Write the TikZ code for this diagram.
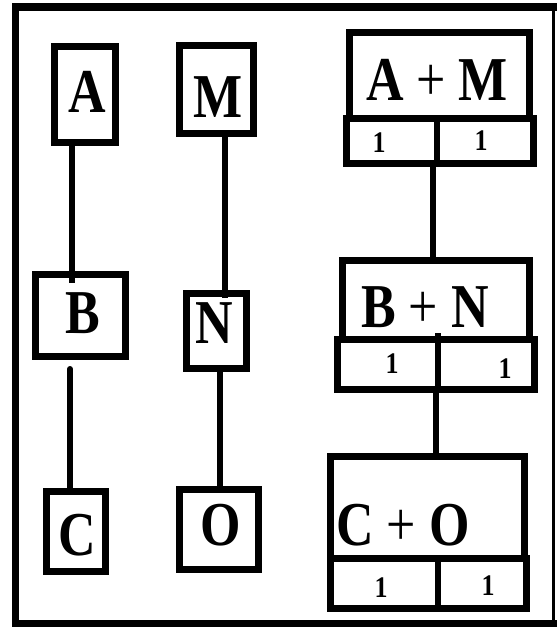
\documentclass[tikz,border=0pt]{standalone}
\usepackage{fontspec}
\usepackage{graphicx}
\setmainfont{Liberation Serif}
\newcommand\tallbig[1]{\scalebox{1}[1.2]{\fontsize{52}{60}\selectfont #1}}
\newcommand\tallsmall[1]{\scalebox{1}[1.15]{\fontsize{26}{30}\selectfont\bfseries #1}}
\begin{document}
\begin{tikzpicture}[x=1pt,y=-1pt,
  frameline/.style={line width=#1},
  boxed/.style={draw, line width=7pt, inner sep=0pt, outer sep=0pt},
  link/.style={line width=6pt},
  divider/.style={line width=6pt},
  word/.style={anchor=base, inner sep=0pt, outer sep=0pt},
]
\useasboundingbox (0,0) rectangle (557,627);

% outer frame
\draw[frameline=7pt] (15.5,3) -- (15.5,627);
\draw[frameline=8pt] (12,7) -- (557,7);
\draw[frameline=3pt] (553,7) -- (553,620);
\draw[frameline=7pt] (12,623.5) -- (557,623.5);

% left column: A - B - C
\node[boxed, minimum width=61pt, minimum height=96pt] (boxA) at (85,94.5) {};
\node[boxed, minimum width=90pt, minimum height=82pt] (boxB) at (80.5,315.5) {};
\node[boxed, minimum width=59pt, minimum height=80pt] (boxC) at (76,531.5) {};
\node[word] (txtA) at (87,112) {\tallbig{\bfseries A}};
\node[word] (txtB) at (83,333) {\tallbig{\bfseries B}};
\node[word] (txtC) at (77,555) {\tallbig{\bfseries C}};

% middle column: M - N - O
\node[boxed, minimum width=74pt, minimum height=88pt] (boxM) at (216.5,89.5) {};
\node[boxed, minimum width=60pt, minimum height=75pt] (boxN) at (216.5,331) {};
\node[boxed, minimum width=79pt, minimum height=80pt] (boxO) at (219,529.5) {};
\node[word] (txtM) at (218,117) {\tallbig{\bfseries M}};
\node[word] (txtN) at (214,343) {\tallbig{\bfseries N}};
\node[word] (txtO) at (221,545) {\tallbig{\bfseries O}};

% right column: combined boxes with counters
\node[boxed, minimum width=180pt, minimum height=86pt] (amT) at (439.5,75.5) {};
\node[boxed, minimum width=187pt, minimum height=45pt] (amS) at (440,141) {};
\node[boxed, minimum width=187pt, minimum height=79pt] (bnT) at (436,300) {};
\node[boxed, minimum width=197pt, minimum height=50pt] (bnS) at (436,364.5) {};
\node[boxed, minimum width=194pt, minimum height=102pt] (coT) at (427.5,507.5) {};
\node[boxed, minimum width=196pt, minimum height=50pt] (coS) at (428.5,583.5) {};

\node[word] (txtAM) at (437,100) {\tallbig{\textbf{A} + \textbf{M}}};
\node[word] (txtBN) at (425,327) {\tallbig{\textbf{B} + \textbf{N}}};
\node[word] (txtCO) at (403,545) {\tallbig{\textbf{C} + \textbf{O}}};

\node[word] (amL) at (379,152) {\tallsmall{1}};
\node[word] (amR) at (481,150) {\tallsmall{1}};
\node[word] (bnL) at (392,373) {\tallsmall{1}};
\node[word] (bnR) at (505,378) {\tallsmall{1}};
\node[word] (coL) at (381,597) {\tallsmall{1}};
\node[word] (coR) at (488,595) {\tallsmall{1}};

% counter dividers
\draw[divider] (amS.north -| 436.5,0) -- (amS.south -| 436.5,0);
\draw[divider] (438,333) -- (bnS.south -| 438,0);
\draw[divider] (coS.north -| 438,0) -- (coS.south -| 438,0);

% connectors
\draw[link] (boxA.south -| 72,0) -- (72,283);
\coordinate (bcTop) at (70,369);
\draw[link, line cap=round] (bcTop) -- (boxC.north -| bcTop);
\draw[link] (boxM.south -| 225,0) -- (225,298);
\draw[link] (boxN.south -| 220,0) -- (boxO.north -| 220,0);
\draw[link] (amS.south -| 433,0) -- (bnT.north -| 433,0);
\draw[link] (bnS.south -| 436,0) -- (coT.north -| 436,0);
\end{tikzpicture}
\end{document}
